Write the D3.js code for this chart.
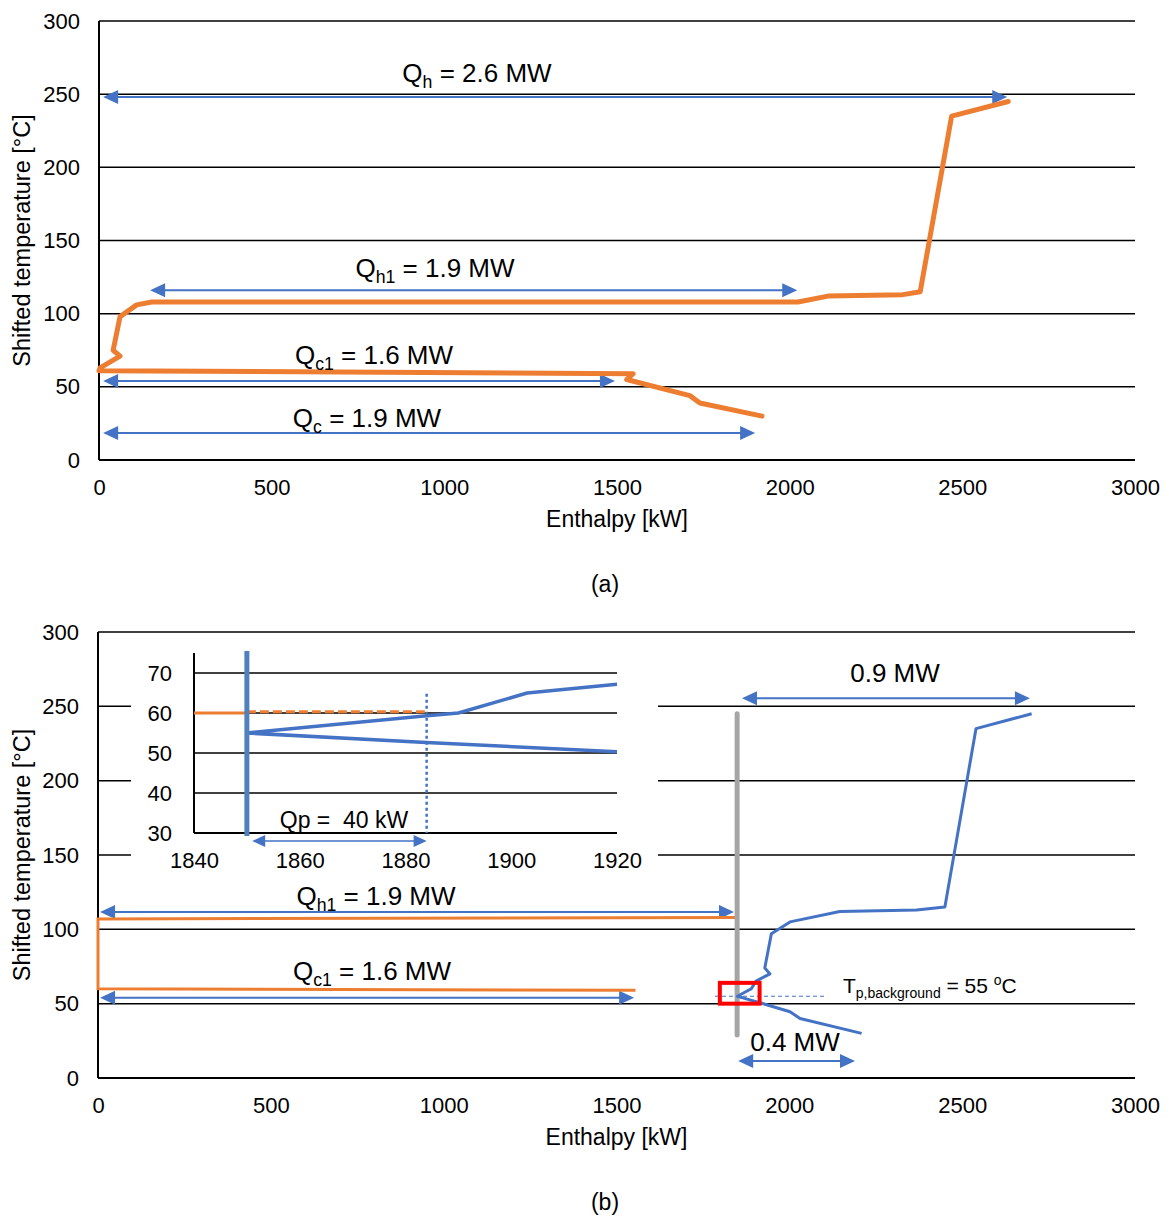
<!DOCTYPE html>
<html>
<head>
<meta charset="utf-8">
<script src="https://cdn.jsdelivr.net/npm/d3@7"></script>
<style>
  body { margin: 0; background: #fff; }
  text { font-family: "Liberation Sans", Arial, sans-serif; fill: #000; }
</style>
</head>
<body>
<svg id="chart"></svg>
<script>
// ---- data ----
const tempTicks = [0, 50, 100, 150, 200, 250, 300];
const enthalpyTicks = [0, 500, 1000, 1500, 2000, 2500, 3000];
const insetTempTicks = [30, 40, 50, 60, 70];
const insetEnthalpyTicks = [1840, 1860, 1880, 1900, 1920];

// (a) grand composite curve [enthalpy kW, shifted temperature C]
const gccA = [[2633, 245], [2469, 235], [2378, 115], [2328, 113], [2111, 112], [2024, 108],
  [153, 108], [109, 106], [61, 98], [41, 75], [61, 71], [3, 63], [0, 61],
  [1547, 59], [1528, 55], [1711, 44], [1740, 39], [1920, 30]];
// (a) arrows [from, to, temperature]
const arrowsA = [[12, 2630, 248], [148, 2022, 116], [12, 1494, 54], [12, 1900, 18.5]];

// (b) background process (hot, orange) and heat pump side (cold, blue)
const hotB = [[1850, 108], [0, 107], [0, 60], [1555, 59]];
const coldB = [[2701, 245], [2540, 235], [2450, 115], [2368, 113], [2146, 112], [2002, 105],
  [1948, 97], [1929, 74], [1944, 70], [1920, 67.2], [1903, 65], [1890, 60], [1883, 59.2],
  [1850, 55], [1883, 52.7], [1920, 50.3], [2002, 44.6], [2031, 40], [2209, 30]];
const arrowsB = [[1863, 2696, 255.5], [6, 1840, 111.7], [6, 1551, 54], [1852, 2190, 11.4]];
const pinchH = 1849;                 // grey vertical line
const pinchRange = [29, 245];
const pinchBox = [[1799, 1914], [50, 64]];
const tBackground = 55;
const tBackgroundRange = [1785, 2109];

// inset
const insetHot = [[1840, 60], [1850, 60]];
const insetHotDashed = [[1850, 60.3], [1884, 60.3]];
const insetPinchH = 1850;
const qpRange = [1851, 1884];
const qpTemp = 28;
const qpTop = 64.8;

// ---- drawing ----
const W = 1169, H = 1221;
const blue = "#4472c4", orange = "#ed7d31";
const fmt = d3.format("d");
const svg = d3.select("#chart").attr("width", W).attr("height", H);

function panel(cfg) {
  const x = d3.scaleLinear().domain([0, 3000]).range([cfg.left, cfg.right]);
  const y = d3.scaleLinear().domain([0, 300]).range([cfg.bottom, cfg.top]);
  const g = svg.append("g");

  // gridlines
  g.append("g").selectAll("line").data(tempTicks.slice(1)).join("line")
    .attr("x1", cfg.left).attr("x2", cfg.right)
    .attr("y1", d => y(d)).attr("y2", d => y(d))
    .attr("stroke", "#000").attr("stroke-width", 1.5);

  // axes lines
  g.append("line").attr("x1", cfg.left).attr("x2", cfg.right)
    .attr("y1", y(0)).attr("y2", y(0)).attr("stroke", "#000").attr("stroke-width", 2);
  g.append("line").attr("x1", cfg.left).attr("x2", cfg.left)
    .attr("y1", y(0)).attr("y2", y(300)).attr("stroke", "#000").attr("stroke-width", 2);

  const yAxis = d3.axisLeft(y).tickValues(tempTicks).tickFormat(fmt).tickSize(0).tickPadding(19);
  g.append("g").attr("transform", `translate(${cfg.left},0)`).call(yAxis)
    .call(a => a.select(".domain").remove())
    .selectAll("text").attr("font-size", 22).attr("font-family", "Liberation Sans, Arial, sans-serif");

  const xAxis = d3.axisBottom(x).tickValues(enthalpyTicks).tickFormat(fmt).tickSize(0).tickPadding(19);
  g.append("g").attr("transform", `translate(0,${y(0)})`).call(xAxis)
    .call(a => a.select(".domain").remove())
    .selectAll("text").attr("font-size", 22).attr("font-family", "Liberation Sans, Arial, sans-serif");

  // axis titles
  g.append("text")
    .attr("transform", `translate(22,${(y(0) + y(300)) / 2}) rotate(-90)`)
    .attr("text-anchor", "middle").attr("dy", "0.35em")
    .attr("font-size", 23.5).text("Shifted temperature [°C]");
  g.append("text").attr("x", (cfg.left + cfg.right) / 2).attr("y", y(0) + 67)
    .attr("text-anchor", "middle").attr("font-size", 23).text("Enthalpy [kW]");
  g.append("text").attr("x", 605).attr("y", y(0) + 132)
    .attr("text-anchor", "middle").attr("font-size", 23).text(cfg.tag);

  return { x, y, g };
}

function arrow(g, xa, xb, yy, o = {}) {
  const L = o.len || 15, w = o.half || 7;
  g.append("line").attr("x1", xa + L - 2).attr("x2", xb - L + 2)
    .attr("y1", yy).attr("y2", yy)
    .attr("stroke", blue).attr("stroke-width", o.sw || 2);
  g.append("path").attr("d", `M${xa},${yy}L${xa + L},${yy - w}L${xa + L},${yy + w}Z`).attr("fill", blue);
  g.append("path").attr("d", `M${xb},${yy}L${xb - L},${yy - w}L${xb - L},${yy + w}Z`).attr("fill", blue);
}

function qlabel(g, cx, by, main, sub, rest, size = 26) {
  const t = g.append("text").attr("x", cx).attr("y", by)
    .attr("text-anchor", "middle").attr("font-size", size);
  t.append("tspan").text(main);
  if (sub) {
    t.append("tspan").attr("font-size", size * 0.68).attr("dy", size * 0.22).text(sub);
    t.append("tspan").attr("dy", -size * 0.22).text(rest);
  }
}

const line = (x, y) => d3.line().x(d => x(d[0])).y(d => y(d[1]));

// ---------- (a) ----------
const A = panel({ left: 99, right: 1135, top: 21, bottom: 460, tag: "(a)" });
arrowsA.forEach(a => arrow(A.g, A.x(a[0]), A.x(a[1]), A.y(a[2])));
A.g.append("path").datum(gccA).attr("d", line(A.x, A.y))
  .attr("fill", "none").attr("stroke", orange).attr("stroke-width", 5)
  .attr("stroke-linejoin", "round").attr("stroke-linecap", "round");
qlabel(A.g, 477, 82, "Q", "h", " = 2.6 MW");
qlabel(A.g, 435, 277, "Q", "h1", " = 1.9 MW");
qlabel(A.g, 374, 364, "Q", "c1", " = 1.6 MW");
qlabel(A.g, 367, 427, "Q", "c", " = 1.9 MW");

// ---------- (b) ----------
const B = panel({ left: 98, right: 1135, top: 632, bottom: 1078, tag: "(b)" });

// inset
const ix = d3.scaleLinear().domain([1840, 1920]).range([194, 617]);
const iy = d3.scaleLinear().domain([30, 75]).range([833, 653]);
const ig = B.g.append("g");
ig.append("rect").attr("x", 131).attr("y", 638).attr("width", 527).attr("height", 242).attr("fill", "#fff");
ig.append("g").selectAll("line").data(insetTempTicks.slice(1)).join("line")
  .attr("x1", ix(1840)).attr("x2", ix(1920))
  .attr("y1", d => iy(d)).attr("y2", d => iy(d))
  .attr("stroke", "#000").attr("stroke-width", 1.5);
ig.append("line").attr("x1", ix(1840)).attr("x2", ix(1920)).attr("y1", iy(30)).attr("y2", iy(30))
  .attr("stroke", "#000").attr("stroke-width", 2);
ig.append("line").attr("x1", ix(1840)).attr("x2", ix(1840)).attr("y1", iy(30)).attr("y2", iy(75))
  .attr("stroke", "#000").attr("stroke-width", 2);
ig.append("g").attr("transform", `translate(${ix(1840)},0)`)
  .call(d3.axisLeft(iy).tickValues(insetTempTicks).tickFormat(fmt).tickSize(0).tickPadding(22))
  .call(a => a.select(".domain").remove())
  .selectAll("text").attr("font-size", 22).attr("font-family", "Liberation Sans, Arial, sans-serif");
ig.append("g").attr("transform", `translate(0,${iy(30)})`)
  .call(d3.axisBottom(ix).tickValues(insetEnthalpyTicks).tickFormat(fmt).tickSize(0).tickPadding(19))
  .call(a => a.select(".domain").remove())
  .selectAll("text").attr("font-size", 22).attr("font-family", "Liberation Sans, Arial, sans-serif");

svg.append("clipPath").attr("id", "insetClip").append("rect")
  .attr("x", ix(1840)).attr("y", iy(75)).attr("width", ix(1920) - ix(1840)).attr("height", iy(30) - iy(75));
const ic = ig.append("g").attr("clip-path", "url(#insetClip)");
ic.append("path").datum(insetHot).attr("d", line(ix, iy))
  .attr("fill", "none").attr("stroke", orange).attr("stroke-width", 3);
ic.append("path").datum(insetHotDashed).attr("d", line(ix, iy))
  .attr("fill", "none").attr("stroke", orange).attr("stroke-width", 3).attr("stroke-dasharray", "9,4");
ic.append("path").datum(coldB).attr("d", line(ix, iy))
  .attr("fill", "none").attr("stroke", blue).attr("stroke-width", 3.5).attr("stroke-linejoin", "round");
ig.append("line").attr("x1", ix(qpRange[1])).attr("x2", ix(qpRange[1]))
  .attr("y1", iy(qpTop)).attr("y2", iy(30))
  .attr("stroke", blue).attr("stroke-width", 2.5).attr("stroke-dasharray", "3,3");
ig.append("line").attr("x1", ix(insetPinchH)).attr("x2", ix(insetPinchH))
  .attr("y1", iy(75) - 2).attr("y2", iy(30) + 3)
  .attr("stroke", "#4f81bd").attr("stroke-width", 5);
arrow(ig, ix(qpRange[0]), ix(qpRange[1]), iy(qpTemp), { len: 13, half: 6, sw: 1.5 });
ig.append("text").attr("x", 344).attr("y", 828).attr("text-anchor", "middle")
  .attr("font-size", 23).attr("xml:space", "preserve").text("Qp =  40 kW");

// main curves (b)
arrowsB.forEach(a => arrow(B.g, B.x(a[0]), B.x(a[1]), B.y(a[2])));
B.g.append("path").datum(hotB).attr("d", line(B.x, B.y))
  .attr("fill", "none").attr("stroke", orange).attr("stroke-width", 3);
B.g.append("line").attr("x1", B.x(pinchH)).attr("x2", B.x(pinchH))
  .attr("y1", B.y(pinchRange[1])).attr("y2", B.y(pinchRange[0]))
  .attr("stroke", "#a5a5a5").attr("stroke-width", 5).attr("stroke-linecap", "round");
B.g.append("path").datum(coldB).attr("d", line(B.x, B.y))
  .attr("fill", "none").attr("stroke", blue).attr("stroke-width", 3).attr("stroke-linejoin", "round");
B.g.append("line").attr("x1", B.x(tBackgroundRange[0])).attr("x2", B.x(tBackgroundRange[1]))
  .attr("y1", B.y(tBackground)).attr("y2", B.y(tBackground))
  .attr("stroke", blue).attr("stroke-width", 1).attr("stroke-dasharray", "4,3");
B.g.append("rect")
  .attr("x", B.x(pinchBox[0][0])).attr("y", B.y(pinchBox[1][1]))
  .attr("width", B.x(pinchBox[0][1]) - B.x(pinchBox[0][0]))
  .attr("height", B.y(pinchBox[1][0]) - B.y(pinchBox[1][1]))
  .attr("fill", "none").attr("stroke", "#ff0000").attr("stroke-width", 4);

qlabel(B.g, 895, 682, "0.9 MW");
qlabel(B.g, 376, 905, "Q", "h1", " = 1.9 MW");
qlabel(B.g, 372, 980, "Q", "c1", " = 1.6 MW");
qlabel(B.g, 795, 1051, "0.4 MW");

// T_p,background label
const tl = B.g.append("text").attr("x", 843).attr("y", 993).attr("font-size", 21);
tl.append("tspan").text("T");
tl.append("tspan").attr("font-size", 14).attr("dy", 5).text("p,background");
tl.append("tspan").attr("dy", -5).text(" = 55 ");
tl.append("tspan").attr("font-size", 14).attr("dy", -8).text("o");
tl.append("tspan").attr("dy", 8).text("C");
</script>
</body>
</html>
